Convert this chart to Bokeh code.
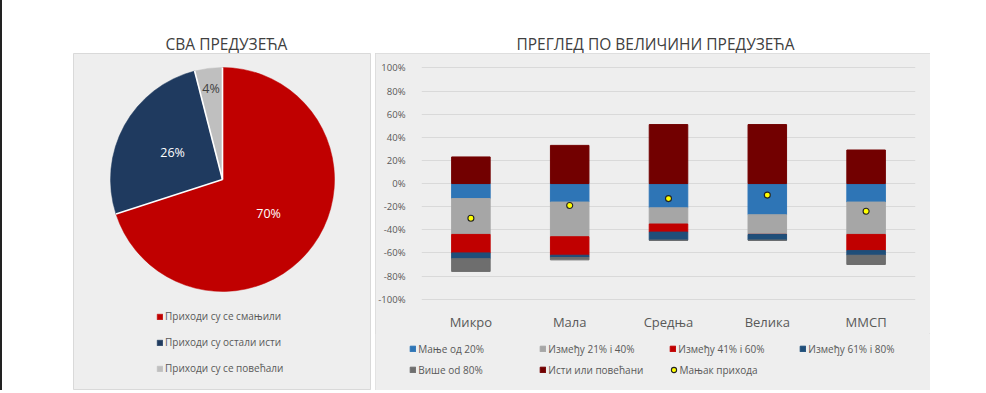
from bokeh.plotting import figure
from bokeh.layouts import row, column
from bokeh.models import (ColumnDataSource, Range1d, FactorRange, FixedTicker,
                          PrintfTickFormatter, Legend, LegendItem, Spacer)
from bokeh.core.properties import value
from bokeh.embed import file_html
from bokeh.resources import INLINE
import numpy as np

FONT = "Open Sans"
PANEL = "#eeeeee"
TXT = "#595959"

# ---------------- data ----------------
titles = ["СВА ПРЕДУЗЕЋА", "ПРЕГЛЕД ПО ВЕЛИЧИНИ ПРЕДУЗЕЋА"]

pie_labels = ["Приходи су се смањили", "Приходи су остали исти", "Приходи су се повећали"]
pie_values = [70, 26, 4]
pie_colors = ["#C00000", "#1F3A5F", "#BFBFBF"]

categories = ["Микро", "Мала", "Средња", "Велика", "ММСП"]
series_names = ["Мање од 20%", "Између 21% i 40%", "Између 41% i 60%",
                "Између 61% i 80%", "Више od 80%", "Исти или повећани"]
less20 = [13, 16, 21, 27, 16]
b21_40 = [31, 30, 14, 17, 28]
b41_60 = [16, 16, 7, 0, 14]
b61_80 = [5, 2, 7, 5, 4]
over80 = [11, 2, 0, 0, 8]
same_or_more = [23, 33, 51, 51, 29]
mean_name = "Мањак прихода"
mean_loss = [-30, -19, -13, -10, -24]
y_ticks = list(range(-100, 101, 20))

bar_colors = ["#2E75B6", "#A6A6A6", "#C00000", "#1F4E79", "#6E6E6E", "#720000"]
mean_fill, mean_line = "#FFFF00", "#222222"


def plain(fig):
    fig.frame_align = False
    fig.axis.visible = False
    fig.grid.visible = False
    return fig


# ---------------- title strip ----------------
tp = plain(figure(width=857, height=53, x_range=Range1d(0, 857), y_range=Range1d(0, 53),
                  output_backend="svg", toolbar_location=None, min_border=0,
                  outline_line_color=None, background_fill_color="white",
                  border_fill_color="white"))
tsrc = ColumnDataSource(dict(x=[153, 582], y=[10, 10], text=titles))
tp.text(x="x", y="y", text="text", source=tsrc, text_font=value(FONT),
        text_font_size="15.5px", text_color="#404040", text_align="center",
        text_baseline="middle")

# ---------------- pie ----------------
PH = 337
pp = plain(figure(width=298, height=PH, x_range=Range1d(0, 298), y_range=Range1d(0, PH),
                  output_backend="svg", toolbar_location=None, min_border=0,
                  background_fill_color=PANEL, border_fill_color=PANEL,
                  outline_line_color="#d9d9d9"))

cx, cy, R = 149, 211, 112
frac = np.array(pie_values, dtype=float) / sum(pie_values)
cum = np.concatenate([[0.0], np.cumsum(frac)])
start = np.pi / 2 - 2 * np.pi * cum[:-1]
end = np.pi / 2 - 2 * np.pi * cum[1:]
wsrc = ColumnDataSource(dict(start=start, end=end, color=pie_colors, label=pie_labels))
w = pp.wedge(x=cx, y=cy, radius=R, start_angle="start", end_angle="end",
             direction="clock", fill_color="color", line_color="color",
             line_width=0.5, source=wsrc)
sep = start
pp.segment(x0=[cx] * len(sep), y0=[cy] * len(sep),
           x1=cx + R * np.cos(sep), y1=cy + R * np.sin(sep),
           line_color="white", line_width=1.6)

mid = (start + end) / 2
lab_r = np.array([57, 57, 92])
lsrc = ColumnDataSource(dict(x=cx + lab_r * np.cos(mid), y=cy + lab_r * np.sin(mid),
                             text=[f"{v}%" for v in pie_values],
                             color=["white", "white", "#404040"]))
pp.text(x="x", y="y", text="text", text_color="color", source=lsrc,
        text_font=value(FONT), text_font_size="12.5px", text_align="center",
        text_baseline="middle")

pleg = Legend(items=[LegendItem(label=l, renderers=[w], index=i) for i, l in enumerate(pie_labels)],
              location=(83, 15), padding=0, spacing=12, glyph_width=7, glyph_height=7,
              label_height=14, label_standoff=2, label_text_font=FONT,
              label_text_font_size="10px", label_text_color=TXT,
              border_line_color=None, background_fill_alpha=0)
pp.add_layout(pleg)

# ---------------- bars ----------------
neg_keys = ["n0", "n1", "n2", "n3", "n4"]
neg_vals = [less20, b21_40, b41_60, b61_80, over80]
data = dict(cat=categories, same=same_or_more, mean=mean_loss)
for k, vals in zip(neg_keys, neg_vals):
    data[k] = [-v for v in vals]
src = ColumnDataSource(data)


def draw_series(fig):
    rs = list(fig.vbar_stack(neg_keys, x="cat", width=0.39, color=bar_colors[:5], source=src))
    rs.append(fig.vbar(x="cat", top="same", bottom=0, width=0.39, color=bar_colors[5], source=src))
    rs.append(fig.scatter(x="cat", y="mean", size=6, marker="circle", fill_color=mean_fill,
                          line_color=mean_line, line_width=1.1, source=src))
    return rs


bp = figure(width=555, height=280, x_range=FactorRange(factors=categories),
            y_range=Range1d(-102, 109), output_backend="svg", toolbar_location=None,
            min_border_left=46, min_border_right=15, min_border_top=4, min_border_bottom=25,
            background_fill_color=PANEL, border_fill_color=PANEL, outline_line_color=None)
bp.frame_align = False
draw_series(bp)

bp.yaxis.ticker = FixedTicker(ticks=y_ticks)
bp.yaxis.formatter = PrintfTickFormatter(format="%d%%")
for ax in (bp.xaxis[0], bp.yaxis[0]):
    ax.axis_line_color = None
    ax.major_tick_line_color = None
    ax.minor_tick_line_color = None
    ax.major_label_text_font = FONT
    ax.major_label_text_color = TXT
bp.yaxis.major_label_text_font_size = "9.5px"
bp.yaxis.major_label_standoff = 10
bp.xaxis.major_label_text_font_size = "13px"
bp.xaxis.major_label_standoff = 5
bp.xgrid.grid_line_color = None
bp.ygrid.grid_line_color = "#d9d9d9"
bp.ygrid.grid_line_width = 1

# ---------------- legend strip under the bars ----------------
# same series drawn on a range where they stay out of view; only the legends show
lf = plain(figure(width=555, height=57, x_range=FactorRange(factors=categories),
                  y_range=Range1d(1000, 1001),
                  output_backend="svg", toolbar_location=None, min_border=0,
                  background_fill_color=PANEL, border_fill_color=PANEL,
                  outline_line_color=None))
leg_r = draw_series(lf)
leg_style = dict(padding=0, margin=0, label_height=14, label_text_font=FONT,
                 label_text_font_size="10px", label_text_color=TXT,
                 border_line_color=None, background_fill_alpha=0)
bleg = Legend(items=[LegendItem(label=n, renderers=[r]) for r, n in zip(leg_r[:6], series_names)],
              orientation="horizontal", ncols=4, location=(34.3, 13.5),
              spacing=7, glyph_width=7, glyph_height=7, label_width=114,
              label_standoff=2, **leg_style)
lf.add_layout(bleg)
mleg = Legend(items=[LegendItem(label=mean_name, renderers=[leg_r[6]])],
              location=(291.5, 13.5), glyph_width=13, glyph_height=13,
              label_standoff=0, **leg_style)
lf.add_layout(mleg)

bars_col = column(bp, lf, styles={"background-color": PANEL,
                                  "outline": "1px solid #d9d9d9",
                                  "outline-offset": "-1px"})
content = column(
    row(Spacer(width=71, height=53), tp),
    row(Spacer(width=71, height=PH), pp, Spacer(width=4, height=PH), bars_col),
)
layout = row(Spacer(width=2, height=390, styles={"background-color": "#222222"}), content)

open("out.html", "w").write(file_html(layout, INLINE))
